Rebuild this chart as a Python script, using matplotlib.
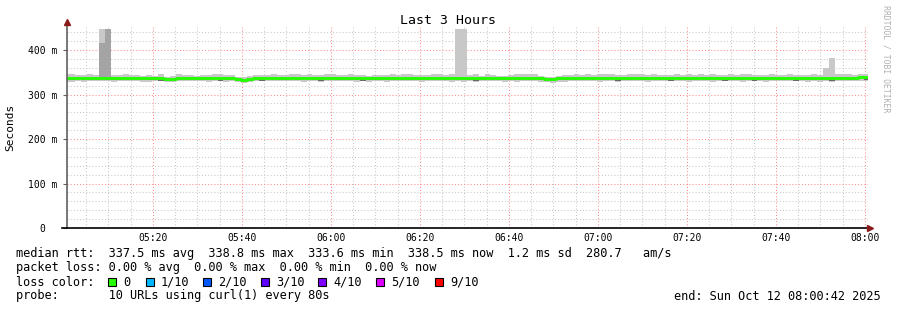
import matplotlib
matplotlib.use("Agg")
import matplotlib.pyplot as plt
from matplotlib.patches import Rectangle
import numpy as np

# ---- data (ms), one value per 80 s step, first step starts at -0.133 min after 05:00
STEP_MIN = 4.0 / 3.0
T0 = -0.133

median = [
    338, 337, 338, 337, 337, 337, 338, 337, 337, 337, 338, 337, 336, 337, 336, 337, 337,
    334, 335, 337, 337, 338, 337, 337, 337, 338, 337, 337, 337, 334, 333.6, 335, 337, 337,
    338, 338, 337, 337, 338, 337, 338, 338, 337, 337, 338, 338, 337, 337, 337, 336, 337,
    336, 337, 337, 337, 338, 337, 337, 338, 337, 337, 337, 338, 337, 337, 338, 338, 337,
    337, 337, 337, 338, 337, 337, 336, 337, 337, 338, 337, 337, 336, 334, 334, 336, 337,
    337, 337, 337, 338, 337, 338, 337, 338, 337, 337, 337, 338, 337, 337, 338, 337, 337,
    337, 338, 337, 337, 337, 338, 337, 338, 337, 337, 337, 337, 337, 338, 337, 337, 337,
    338, 337, 337, 338, 337, 337, 337, 337, 336, 337, 337, 338, 338, 338, 337, 338.5, 338.5,
]
smoke_hi = [
    346, 345, 343, 343, 345, 343, 346, 345, 343, 343, 345, 344, 343, 342, 344, 342, 345,
    340, 341, 345, 344, 343, 342, 344, 343, 346, 345, 343, 344, 340, 340, 341, 344, 343,
    343, 345, 343, 344, 346, 345, 343, 345, 343, 343, 345, 345, 344, 343, 345, 343, 343,
    342, 344, 343, 344, 345, 343, 346, 345, 343, 344, 343, 345, 345, 343, 345, 344, 343,
    343, 345, 342, 346, 343, 342, 342, 344, 345, 345, 346, 345, 342, 340, 340, 342, 343,
    343, 345, 343, 347, 344, 346, 345, 346, 343, 343, 345, 346, 345, 343, 346, 343, 343,
    343, 345, 343, 345, 343, 345, 343, 346, 343, 344, 345, 343, 345, 345, 343, 344, 343,
    345, 343, 344, 345, 343, 344, 343, 346, 343, 344, 343, 345, 345, 345, 343, 345, 345,
]
smoke_lo = [
    327, 328, 331, 329, 330, 331, 331, 330, 329, 331, 331, 330, 331, 328, 329, 330, 331,
    327, 328, 330, 331, 331, 330, 331, 329, 331, 330, 328, 330, 327, 326, 328, 330, 331,
    330, 331, 330, 331, 331, 330, 328, 330, 331, 329, 331, 331, 330, 331, 330, 328, 330,
    329, 331, 330, 329, 331, 330, 331, 331, 330, 329, 331, 331, 330, 331, 329, 330, 329,
    330, 329, 331, 331, 330, 331, 329, 330, 328, 331, 330, 331, 329, 327, 326, 328, 329,
    330, 331, 330, 331, 330, 328, 330, 331, 329, 331, 330, 331, 330, 328, 331, 330, 331,
    330, 331, 330, 329, 331, 331, 330, 329, 330, 331, 330, 331, 328, 331, 330, 331, 329,
    331, 330, 331, 331, 330, 331, 328, 330, 329, 330, 328, 331, 331, 331, 330, 330, 331,
]
core_lo = [
    334, 333, 334, 333, 333, 333, 334, 332, 333, 333, 334, 333, 332, 333, 332, 333, 331,
    330, 331, 333, 333, 334, 333, 333, 333, 334, 331, 333, 333, 330, 330, 331, 333, 331,
    334, 334, 333, 332, 334, 333, 334, 334, 333, 331, 334, 334, 333, 333, 333, 332, 331,
    332, 333, 333, 333, 334, 333, 333, 332, 333, 333, 333, 334, 333, 333, 334, 334, 333,
    333, 331, 333, 334, 333, 333, 332, 333, 333, 334, 333, 333, 332, 330, 330, 332, 333,
    333, 333, 333, 334, 333, 334, 333, 334, 331, 333, 333, 334, 333, 333, 334, 333, 333,
    331, 334, 333, 333, 333, 334, 333, 334, 333, 331, 333, 333, 333, 334, 331, 333, 333,
    334, 333, 333, 334, 331, 333, 333, 333, 332, 333, 331, 334, 334, 332, 333, 334, 333,
]
# outlier pings (ms): steps with smoke reaching far above the median
spike_steps = [6, 7, 66, 67, 128, 129]
spike_light_top = [447, 447, 447, 447, 360, 382]
spike_dark_top = [415, 447, 0, 0, 0, 0]

y_ticks = [0, 100, 200, 300, 400]
y_labels = ["0  ", "100 m", "200 m", "300 m", "400 m"]
x_ticks = [20, 40, 60, 80, 100, 120, 140, 160, 180]
x_labels = ["05:20", "05:40", "06:00", "06:20", "06:40", "07:00", "07:20", "07:40", "08:00"]

loss_labels = ["0", "1/10", "2/10", "3/10", "4/10", "5/10", "9/10"]
loss_colors = ["#26ff00", "#00b8ff", "#0059ff", "#5e00ff", "#7e00ff", "#dd00ff", "#ff0000"]

W, H = 897, 310
MONO = "DejaVu Sans Mono"

fig = plt.figure(figsize=(W / 100, H / 100), dpi=100)
fig.patch.set_facecolor("white")
ax = fig.add_axes([67 / W, 1 - 228 / H, (868 - 67) / W, (228 - 27) / H])
ax.set_xlim(0.7, 180.7)
ax.set_ylim(0, 451.7)
for s in ax.spines.values():
    s.set_visible(False)

# grid
dots = (0, (1, 2))
for t in np.arange(5, 181, 5):
    major = t % 20 == 0
    ax.axvline(t, color="#ff8c8c" if major else "#c8c8c8", lw=0.75,
               ls=dots, zorder=0)
for v in np.arange(20, 451, 20):
    major = v % 100 == 0
    ax.axhline(v, color="#ff8c8c" if major else "#c8c8c8", lw=0.75,
               ls=dots, zorder=0)

n = len(median)
left = T0 + np.arange(n) * STEP_MIN
med = np.array(median, dtype=float)
hi = np.array(smoke_hi, dtype=float)
lo = np.array(smoke_lo, dtype=float)
clo = np.array(core_lo, dtype=float)

# smoke
ax.bar(left, hi - lo, bottom=lo, width=STEP_MIN, align="edge",
       color="#c8c8c8", linewidth=0, zorder=2)
ax.bar(left, med - clo, bottom=clo, width=STEP_MIN, align="edge",
       color="#6a6a6a", linewidth=0, zorder=3)
for i, lt, dt in zip(spike_steps, spike_light_top, spike_dark_top):
    ax.bar(left[i], lt - med[i], bottom=med[i], width=STEP_MIN, align="edge",
           color="#c8c8c8", linewidth=0, zorder=2)
    if dt:
        ax.bar(left[i], dt - med[i], bottom=med[i], width=STEP_MIN, align="edge",
               color="#a4a4a4", linewidth=0, zorder=2)

# median line
edges = np.append(left, left[-1] + STEP_MIN)
ax.step(edges, np.append(med, med[-1]), where="post", color="#26ff00",
        lw=2.1, zorder=4)

# axes lines with arrows
ax.plot([0.7, 0.7], [0, 451.7 + 11], color="#606060", lw=1.2, clip_on=False, zorder=5)
ax.plot([0.7 - 5 / 4.45, 180.7 + 2 / 4.45], [0, 0], color="black", lw=1.2,
        clip_on=False, zorder=5)
ax.plot([0.7], [451.7 + 11], marker="^", color="#8b1a1a", ms=4, clip_on=False, zorder=6)
ax.plot([180.7 + 2 / 4.45], [0], marker=">", color="#8b1a1a", ms=4, clip_on=False, zorder=6)

ax.set_xticks(x_ticks)
ax.set_xticklabels(x_labels, family=MONO, fontsize=7)
ax.set_yticks(y_ticks)
ax.set_yticklabels(y_labels, family=MONO, fontsize=7)
ax.tick_params(axis="x", length=0, pad=3.5, colors="black")
ax.tick_params(axis="y", length=3, width=0.8, color="#606060", pad=4)
ax.set_ylabel("Seconds", family=MONO, fontsize=8, labelpad=9)


def ftext(x, y, s, **kw):
    kw.setdefault("family", MONO)
    kw.setdefault("fontsize", 8.58)
    kw.setdefault("va", "center")
    return fig.text(x / W, 1 - y / H, s, **kw)


ftext(448, 20, "Last 3 Hours", ha="center", fontsize=9.5)
ftext(886, 5, "RRDTOOL / TOBI OETIKER", rotation=270, va="top", ha="center",
      fontsize=5.9, color="#b0b0b0")

ftext(16, 254, "median rtt:  337.5 ms avg  338.8 ms max  333.6 ms min  "
      "338.5 ms now  1.2 ms sd  280.7   am/s")
ftext(16, 268, "packet loss: 0.00 % avg  0.00 % max  0.00 % min  0.00 % now")
ftext(16, 282, "loss color:")
box_x = [108, 146, 203, 261, 318, 376, 435]
for bx, lab, col in zip(box_x, loss_labels, loss_colors):
    fig.patches.append(Rectangle((bx / W, 1 - 286 / H), 8 / W, 8 / H,
                                 transform=fig.transFigure, facecolor=col,
                                 edgecolor="black", lw=0.8))
    ftext(bx + 15, 282, lab)
ftext(16, 296, "probe:       10 URLs using curl(1) every 80s")
ftext(881, 296, "end: Sun Oct 12 08:00:42 2025", ha="right")

fig.savefig("out.png", dpi=100, facecolor="white")
